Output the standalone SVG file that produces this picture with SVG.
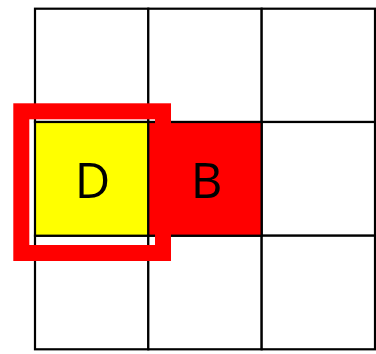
<svg xmlns="http://www.w3.org/2000/svg" width="376" height="354" viewBox="0 0 376 354">
<style>
.cell{stroke:#000;stroke-width:2.2;fill:#fff}
.lbl{font-family:"Open Sans","Noto Sans",sans-serif;font-size:49px;fill:#000;text-anchor:middle}
</style>
<rect width="376" height="354" fill="#fff"/>
<g id="grid">
<rect class="cell" x="35" y="8.7" width="113.3" height="113.3"/>
<rect class="cell" x="148.3" y="8.7" width="113.3" height="113.3"/>
<rect class="cell" x="261.7" y="8.7" width="113.3" height="113.3"/>
<rect class="cell" x="261.7" y="122" width="113.3" height="113.7"/>
<rect class="cell" x="35" y="235.7" width="113.3" height="113.6"/>
<rect class="cell" x="148.3" y="235.7" width="113.3" height="113.6"/>
<rect class="cell" x="261.7" y="235.7" width="113.3" height="113.6"/>
</g>
<g id="D">
<rect class="cell" x="35" y="122" width="113.3" height="113.7" fill="#ffff00" style="fill:#ffff00"/>
<text class="lbl" x="92.5" y="198.3">D</text>
</g>
<g id="B">
<rect class="cell" x="148.3" y="122" width="113.3" height="113.7" style="fill:#ff0000"/>
<text class="lbl" x="206.7" y="198.3">B</text>
</g>
<g id="highlight">
<rect x="21.3" y="111.3" width="141.7" height="141.7" fill="none" stroke="#ff0000" stroke-width="16"/>
</g>
</svg>
